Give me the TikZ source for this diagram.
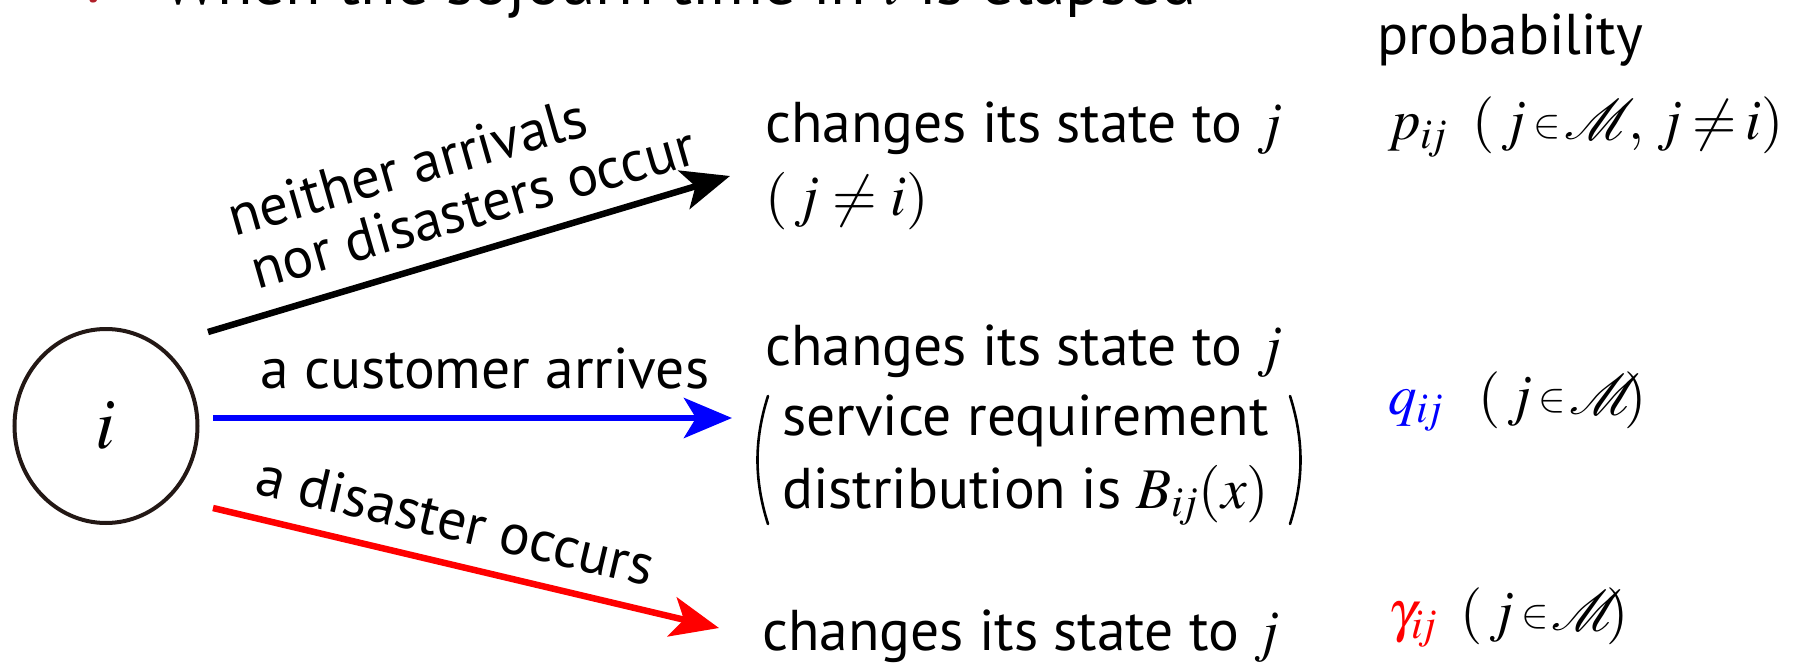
\documentclass[tikz,border=0pt]{standalone}
\usepackage{graphicx}
\usepackage{mathptmx}
\usepackage{mathrsfs}
% let the script alphabet scale to any size
\DeclareFontFamily{U}{rsfs}{\skewchar\font127 }
\DeclareFontShape{U}{rsfs}{m}{n}{<-> rsfs10}{}
\usepackage[no-math]{fontspec}
\setmainfont{PT Sans}
\newfontfamily\symfont{DejaVu Sans}
\usetikzlibrary{arrows.meta,shapes.geometric}
\definecolor{ink}{HTML}{231815}
\definecolor{tick}{HTML}{B0202A}
\definecolor{pblue}{HTML}{0000FF}
\definecolor{pred}{HTML}{FF0000}
\newcommand{\smallin}{\mathrel{\raisebox{0.1ex}{\scalebox{0.72}{$\in$}}}}
\newcommand{\inM}{\mkern2mu j\mkern-2mu\smallin\mkern-3mu\mathscr{M}}
\begin{document}
\begin{tikzpicture}[x=1pt,y=-1pt,
  txt/.style={inner sep=0pt, font=\fontsize{57.5}{68}\selectfont},
  mth/.style={inner sep=0pt, font=\fontsize{57}{62}\selectfont},
  arr/.style={line width=6.5pt, -{Stealth[length=48pt,width=40pt,inset=12pt]}},
  state/.style={ellipse, draw=ink, line width=4pt, minimum width=183pt,
                minimum height=194pt, inner sep=0pt},
  paren/.style={line width=2.6pt, line cap=round}]
\useasboundingbox (0,0) rectangle (1794,663);
\clip (0,0) rectangle (1794,663);

% heading line (mostly above the frame)
\node[anchor=base, text=tick, inner sep=0pt, font=\symfont\fontsize{40}{40}\selectfont] (chk) at (100,7) {✔};
\node[anchor=base west, inner sep=0pt, font=\fontsize{65}{70}\selectfont] (head) at (163,5)
  {When the sojourn time in $i$ is elapsed};

% the state
\node[state] (st) at (106,426) {\fontsize{72}{72}\selectfont$i$};

% arrow end points
\coordinate (bs) at (208,332); \coordinate (be) at (730,176);
\coordinate (us) at (213,418); \coordinate (ue) at (732,418);
\coordinate (rs) at (213,508); \coordinate (re) at (719,628);

\draw[arr, black] (bs) -- (be);
\draw[arr, pblue] (us) -- (ue);
\draw[arr, pred] (rs) -- (re);

% event labels
\node[txt, anchor=base west, rotate=16] (lbl1a) at (234,237) {neither arrivals};
\node[txt, anchor=base west, rotate=16] (lbl1b) at (257,290) {nor disasters occur};
\node[txt, anchor=base west] (lbl2) at (260,388) {a customer arrives};
\node[txt, anchor=base west, rotate=-13.3] (lbl3) at (253,493) {a disaster occurs};

% outcomes
\node[txt, anchor=base west] (o1) at (765,143) {changes its state to $j$};
\node[txt, anchor=base west] (o1b) at (765,216) {$(\,j\neq i)$};
\node[txt, anchor=base west] (o2) at (765,365) {changes its state to $j$};
\node[txt, anchor=base west] (o2b) at (782,435) {service requirement};
\node[txt, anchor=base west] (o2c) at (782,508) {distribution is $B_{i\!j}(x)$};
\draw[paren] (768,396) .. controls (754,440) and (754,480) .. (768,524);
\draw[paren] (1290,396) .. controls (1304,440) and (1304,480) .. (1290,524);
\node[txt, anchor=base west] (o3) at (762,650) {changes its state to $j$};

% probabilities
\node[txt, anchor=base west] (ph) at (1377,55) {probability};
\node[mth, anchor=base west] (p1) at (1388,140)
  {$p_{i\!j}\mkern8mu(\inM\mkern-2mu,\, j\mkern-1mu\neq\mkern-1mu i)$};
\node[mth, anchor=base west] (p2) at (1388,414)
  {$\color{pblue}q_{i\!j}\mkern11mu\color{black}(\inM\mkern-5mu)$};
\node[mth, anchor=base west] (p3) at (1388,630)
  {$\color{pred}\gamma_{i\!j}\mkern7mu\color{black}(\inM\mkern-5mu)$};
\end{tikzpicture}
\end{document}
